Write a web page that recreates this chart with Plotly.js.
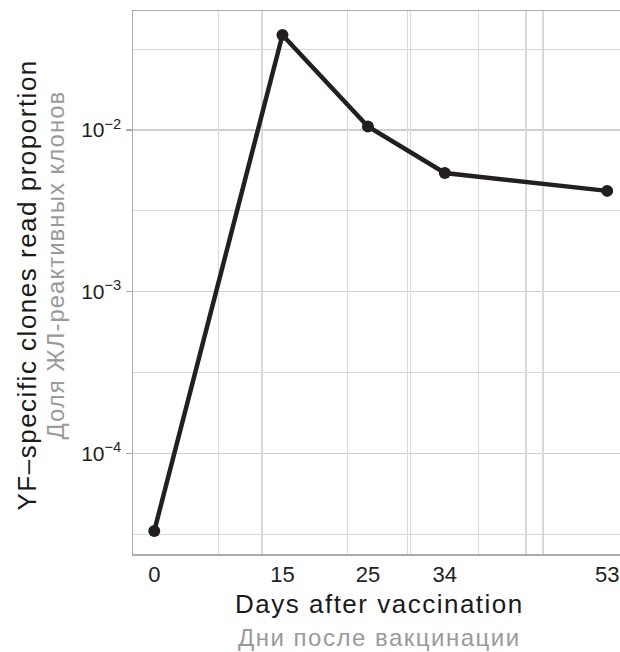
<!DOCTYPE html>
<html>
<head>
<meta charset="utf-8">
<script src="https://cdn.plot.ly/plotly-3.0.1.min.js"></script>
<style>html,body{margin:0;padding:0;background:#fff;}#chart{width:620px;height:652px;}</style>
</head>
<body>
<div id="chart"></div>
<script>
// Data
var days = [0, 15, 25, 34, 53];
var proportion = [3.31e-5, 0.0387, 0.0105, 0.00542, 0.0042];
var xTickLabels = ['0', '15', '25', '34', '53'];
var xGridDays = [7.5, 12.6, 22.6, 29.6, 30.0, 37.9, 43.5, 45.5];
var yMajorVals = [1e-4, 1e-3, 1e-2];
var yMajorLabels = ['10<sup>\u22124</sup>', '10<sup>\u22123</sup>', '10<sup>\u22122</sup>'];
var yMinorVals = [Math.pow(10, -4.5), Math.pow(10, -3.5), Math.pow(10, -2.5), Math.pow(10, -1.5)];
var xTitle = 'Days after vaccination';
var xTitleRu = 'Дни после вакцинации';
var yTitle = 'YF\u2013specific clones read proportion';
var yTitleRu = 'Доля ЖЛ-реактивных клонов';

var xRange = [-2.49, 54.5];
var yRange = [-4.623, -1.264];
var FONT = 'Liberation Sans, Arial, Helvetica, sans-serif';
var GRID = '#d9d9d9';
var LINE = '#ababab';

function spaced(t, px) { return '<span style="letter-spacing:' + px + 'px">' + t + '</span>'; }

var trace = {
  x: days, y: proportion, type: 'scatter', mode: 'lines+markers',
  xaxis: 'x', yaxis: 'y',
  line: {color: '#231f20', width: 4.5},
  marker: {color: '#231f20', size: 12},
  hoverinfo: 'skip', showlegend: false
};

var layout = {
  width: 620, height: 652,
  margin: {l: 133, r: 0, t: 11, b: 98, pad: 0},
  paper_bgcolor: '#ffffff', plot_bgcolor: '#ffffff',
  font: {family: FONT, color: '#222222'},
  showlegend: false,
  xaxis: {
    range: xRange, tickmode: 'array', tickvals: days, ticktext: xTickLabels,
    showgrid: false, zeroline: false, ticks: '', ticklabelstandoff: 0,
    tickfont: {size: 22, color: '#222222', family: FONT},
    showline: true, mirror: true, linecolor: LINE, linewidth: 1.5
  },
  xaxis2: {
    range: xRange, overlaying: 'x', tickmode: 'array', tickvals: xGridDays,
    showticklabels: false, showgrid: true, gridcolor: GRID, gridwidth: 1.2,
    zeroline: false, ticks: '', showline: false
  },
  yaxis: {
    type: 'log', range: yRange, tickmode: 'array', tickvals: yMajorVals, ticktext: yMajorLabels,
    showgrid: true, gridcolor: '#cfcfcf', gridwidth: 1.3, zeroline: false,
    ticks: 'outside', ticklen: 6, tickcolor: LINE, tickwidth: 1.3,
    tickfont: {size: 21, color: '#222222', family: FONT},
    showline: true, linecolor: LINE, linewidth: 1.5
  },
  yaxis2: {
    type: 'log', range: yRange, overlaying: 'y', tickmode: 'array', tickvals: yMinorVals,
    showticklabels: false, showgrid: true, gridcolor: GRID, gridwidth: 1.2,
    zeroline: false, ticks: '', showline: false
  },
  annotations: [
    {text: spaced(xTitle, 1.5), xref: 'paper', yref: 'paper', x: 0.5, y: 0, xanchor: 'center', yanchor: 'middle',
     yshift: -50, xshift: 3, showarrow: false, font: {size: 26, color: '#1a1a1a', family: FONT}},
    {text: spaced(xTitleRu, 1.5), xref: 'paper', yref: 'paper', x: 0.5, y: 0, xanchor: 'center', yanchor: 'middle',
     yshift: -83, xshift: 3, showarrow: false, font: {size: 24, color: '#9a9a9a', family: FONT}},
    {text: spaced(yTitle, 1.5), xref: 'paper', yref: 'paper', x: 0, y: 0.5, xanchor: 'center', yanchor: 'middle',
     xshift: -107, yshift: -3, textangle: -90, showarrow: false, font: {size: 26, color: '#1a1a1a', family: FONT}},
    {text: spaced(yTitleRu, 1.0), xref: 'paper', yref: 'paper', x: 0, y: 0.5, xanchor: 'center', yanchor: 'middle',
     xshift: -78, yshift: 17, textangle: -90, showarrow: false, font: {size: 24, color: '#9a9a9a', family: FONT}}
  ]
};

// invisible helper traces to activate the overlay grid axes
var gx = {x: [xRange[0]], y: [proportion[0]], xaxis: 'x2', yaxis: 'y', mode: 'markers', marker: {opacity: 0}, hoverinfo: 'skip', showlegend: false};
var gy = {x: [days[0]], y: [proportion[0]], xaxis: 'x', yaxis: 'y2', mode: 'markers', marker: {opacity: 0}, hoverinfo: 'skip', showlegend: false};

Plotly.newPlot('chart', [gx, gy, trace], layout, {displayModeBar: false, staticPlot: true});
</script>
</body>
</html>
